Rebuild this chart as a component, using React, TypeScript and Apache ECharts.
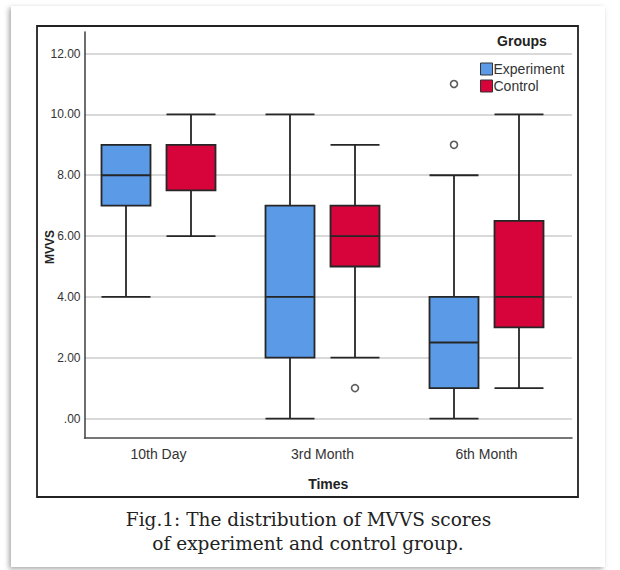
import React, { useEffect, useRef } from "react";
import * as echarts from "echarts";

const categories = ["10th Day", "3rd Month", "6th Month"];
// [min, Q1, median, Q3, max]
const experimentBox = [
  [4, 7, 8, 9, 9],
  [0, 2, 4, 7, 10],
  [0, 1, 2.5, 4, 8],
];
const controlBox = [
  [6, 7.5, 9, 9, 10],
  [2, 5, 6, 7, 9],
  [1, 3, 4, 6.5, 10],
];
const experimentOutliers = [
  [2, 9],
  [2, 11],
];
const controlOutliers = [[1, 1]];
const yTicks = [0, 2, 4, 6, 8, 10, 12];
const yMin = -0.64;
const yMax = 12.71;

const EXP_COLOR = "#5A9AE6";
const CTRL_COLOR = "#D6043B";
const SANS = "'Liberation Sans', Arial, sans-serif";
const SERIF = "'DejaVu Serif', 'Liberation Serif', serif";

export default function App() {
  const ref = useRef<HTMLDivElement>(null);

  useEffect(() => {
    if (!ref.current) return;
    const chart = echarts.init(ref.current, undefined, { renderer: "svg" });
    const hiddenY = (gridIndex: number) => ({
      gridIndex,
      type: "value",
      min: yMin,
      max: yMax,
      show: false,
    });
    const gridBase = { top: 32, height: 406 };
    chart.setOption({
      animation: false,
      textStyle: { fontFamily: SANS },
      grid: [
        { ...gridBase, left: 84.5, width: 487.5 },
        { ...gridBase, left: 44, width: 492 },
        { ...gridBase, left: 109, width: 492 },
        { ...gridBase, left: 76.5, width: 492 },
      ],
      xAxis: [
        {
          gridIndex: 0,
          type: "category",
          data: [""],
          axisLine: { onZero: false, lineStyle: { color: "#4a4a4a", width: 1.6 } },
          axisTick: { show: false },
          axisLabel: { show: false },
          splitLine: { show: false },
          name: "Times",
          nameLocation: "middle",
          nameGap: 39,
          nameMoveOverlap: false,
          nameTextStyle: { fontWeight: "bold", fontSize: 14, color: "#222", fontFamily: SANS },
        },
        { gridIndex: 1, type: "category", data: categories, show: false, axisLine: { onZero: false } },
        { gridIndex: 2, type: "category", data: categories, show: false, axisLine: { onZero: false } },
        {
          gridIndex: 3,
          type: "category",
          data: categories,
          axisLine: { show: false, onZero: false },
          axisTick: { show: false },
          axisLabel: { fontSize: 14, color: "#333", margin: 9, fontFamily: SANS },
          splitLine: { show: false },
        },
      ],
      yAxis: [
        {
          gridIndex: 0,
          type: "value",
          min: yMin,
          max: yMax,
          axisLine: { show: true, lineStyle: { color: "#4a4a4a", width: 1.6 } },
          axisTick: { show: false, customValues: yTicks },
          axisLabel: {
            customValues: yTicks,
            margin: 4,
            fontSize: 12,
            color: "#333",
            fontFamily: SANS,
            formatter: (v: number) => (v === 0 ? ".00" : v.toFixed(2)),
          },
          splitLine: { show: true, lineStyle: { color: "#cccccc", width: 1.5 } },
          name: "MVVS",
          nameLocation: "middle",
          nameGap: 29,
          nameMoveOverlap: false,
          nameTextStyle: {
            fontWeight: "bold",
            fontSize: 12,
            color: "#222",
            fontFamily: SANS,
            padding: [0, 24, 0, 0],
          },
        },
        hiddenY(1),
        hiddenY(2),
        hiddenY(3),
      ],
      legend: {
        data: [
          { name: "Experiment", itemStyle: { color: EXP_COLOR, borderColor: "#333", borderWidth: 1 } },
          { name: "Control", itemStyle: { color: CTRL_COLOR, borderColor: "#333", borderWidth: 1 } },
        ],
        orient: "vertical",
        left: 475,
        top: 57,
        itemWidth: 12,
        itemHeight: 12,
        itemGap: 3,
        icon: "rect",
        backgroundColor: "#ffffff",
        padding: [5, 5, 5, 5],
        selectedMode: false,
        textStyle: { fontSize: 14, color: "#333", fontFamily: SANS, padding: [0, 0, 0, -4] },
      },
      series: [
        {
          type: "boxplot",
          name: "Experiment",
          xAxisIndex: 1,
          yAxisIndex: 1,
          data: experimentBox,
          boxWidth: [49, 49],
          itemStyle: { color: EXP_COLOR, borderColor: "#262626", borderWidth: 1.8 },
          emphasis: { disabled: true },
        },
        {
          type: "boxplot",
          name: "Control",
          xAxisIndex: 2,
          yAxisIndex: 2,
          data: controlBox,
          boxWidth: [49, 49],
          itemStyle: { color: CTRL_COLOR, borderColor: "#262626", borderWidth: 1.8 },
          emphasis: { disabled: true },
        },
        {
          type: "scatter",
          xAxisIndex: 1,
          yAxisIndex: 1,
          data: experimentOutliers,
          symbol: "circle",
          symbolSize: 7,
          itemStyle: { color: "#ffffff", borderColor: "#333", borderWidth: 1.6 },
          emphasis: { disabled: true },
        },
        {
          type: "scatter",
          xAxisIndex: 2,
          yAxisIndex: 2,
          data: controlOutliers,
          symbol: "circle",
          symbolSize: 7,
          itemStyle: { color: "#ffffff", borderColor: "#333", borderWidth: 1.6 },
          emphasis: { disabled: true },
        },
      ],
      graphic: [
        {
          type: "rect",
          shape: { x: 37, y: 26, width: 541, height: 471 },
          style: { fill: "none", stroke: "#222", lineWidth: 1.8 },
          silent: true,
        },
        {
          type: "text",
          x: 522,
          y: 41,
          style: {
            text: "Groups",
            textAlign: "center",
            textVerticalAlign: "middle",
            font: `bold 14px ${SANS}`,
            fill: "#222",
          },
          silent: true,
        },
        {
          type: "text",
          x: 308.5,
          y: 519,
          style: {
            text: "Fig.1: The distribution of MVVS scores",
            textAlign: "center",
            textVerticalAlign: "middle",
            font: `18.5px ${SERIF}`,
            fill: "#222",
          },
          silent: true,
        },
        {
          type: "text",
          x: 308,
          y: 543,
          style: {
            text: "of experiment and control group.",
            textAlign: "center",
            textVerticalAlign: "middle",
            font: `18.5px ${SERIF}`,
            fill: "#222",
          },
          silent: true,
        },
      ],
    });
    return () => chart.dispose();
  }, []);

  return (
    <>
      <div
        style={{
          position: "absolute",
          left: 11,
          top: 6,
          width: 594,
          height: 561,
          background: "#fff",
          boxShadow: "-2px 2px 5px rgba(0,0,0,0.35)",
        }}
      />
      <div
        ref={ref}
        style={{ position: "absolute", left: 0, top: 0, width: 620, height: 570 }}
      />
    </>
  );
}
